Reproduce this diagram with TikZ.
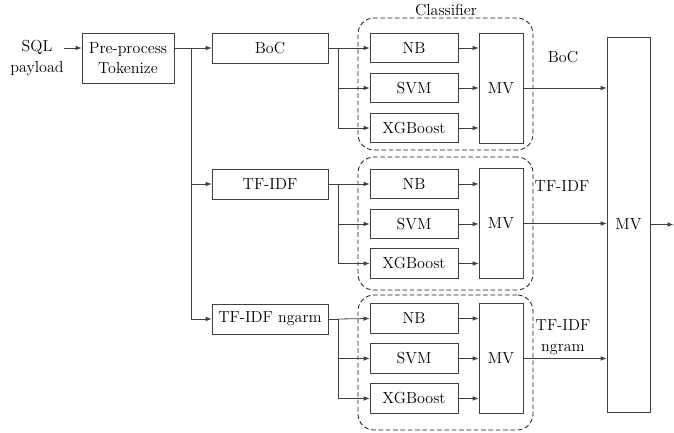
\documentclass[tikz,border=0pt]{standalone}
\usetikzlibrary{arrows.meta}
\begin{document}
\begin{tikzpicture}[x=0.75pt,y=-0.75pt,
  font=\rmfamily\fontsize{12}{15.5}\selectfont,
  ln/.style={draw=black!75,line width=0.6pt},
  arr/.style={ln,-{Latex[length=4.5pt,width=3.5pt]}},
  box/.style={ln,rectangle,inner sep=0pt,align=center},
  feat/.style={box,minimum width=87pt,minimum height=22.5pt},
  clf/.style={box,minimum width=66pt,minimum height=22pt},
  mvs/.style={box,minimum width=33pt,minimum height=82.5pt},
  grp/.style={draw=black!90,line width=0.6pt,dash pattern=on 3.5pt off 2pt,rounded corners=12pt,rectangle,minimum width=131.25pt,inner sep=0pt},
  lbl/.style={inner sep=0pt,align=center}]
\useasboundingbox (0,0) rectangle (674,432);

% input
\node[lbl] (sql) at (37,58) {SQL\\payload};
\node[box,minimum width=69pt,minimum height=37.5pt] (pre) at (128,58) {Pre-process\\Tokenize};

% features
\node[feat] (boc) at (270,48) {BoC};
\node[feat] (tfidf) at (270,184) {TF-IDF};
\node[feat] (ngram) at (270,319) {TF-IDF ngarm};

% dashed classifier groups
\node[grp,minimum height=99pt] (g1) at (445.5,84) {};
\node[grp,minimum height=99.75pt] (g2) at (445.5,223.5) {};
\node[grp,minimum height=101.25pt] (g3) at (445.5,362.5) {};
\node[lbl] (cl) at (446,10) {Classifier};

% block 1
\node[clf] (nb1) at (414,48) {NB};
\node[clf] (svm1) at (414,88) {SVM};
\node[clf] (xg1) at (414,128) {XGBoost};
\node[mvs] (mv1) at (501,88) {MV};
% block 2
\node[clf] (nb2) at (414,184) {NB};
\node[clf] (svm2) at (414,224) {SVM};
\node[clf] (xg2) at (414,263.5) {XGBoost};
\node[mvs] (mv2) at (501,223.5) {MV};
% block 3
\node[clf] (nb3) at (414,318.5) {NB};
\node[clf] (svm3) at (414,358.5) {SVM};
\node[clf] (xg3) at (414,398.5) {XGBoost};
\node[mvs] (mv3) at (501,358.5) {MV};

% final MV
\node[box,minimum width=32.25pt,minimum height=281.25pt] (mv) at (628.5,224.5) {MV};
\coordinate (out) at (673.5,224.5);

% labels
\node[lbl] (l1) at (563,57) {BoC};
\node[lbl] (l2) at (562,186) {TF-IDF};
\node[lbl] (l3) at (563,337) {TF-IDF\\ngram};

% junction coordinates
\coordinate (j0) at (191,48);
\coordinate (j1) at (338,48);
\coordinate (j2) at (338,184);
\coordinate (j3) at (338,319);

% connectors
\draw[arr] (sql.east |- boc.west) -- (pre.west |- boc.west);
\draw[ln] (pre.east |- boc.west) -- (j0);
\draw[arr] (j0) -- (boc.west);
\draw[ln] (j0) -- (j0 |- ngram.west);
\draw[arr] (j0 |- tfidf.west) -- (tfidf.west);
\draw[arr] (j0 |- ngram.west) -- (ngram.west);

\foreach \f/\j/\a/\b/\c in {boc/j1/nb1/svm1/xg1, tfidf/j2/nb2/svm2/xg2, ngram/j3/nb3/svm3/xg3}{
  \draw[ln] (\f.east) -- (\j) -- (\j |- \c.west);
  \draw[arr] (\j) -- (\a.west);
  \draw[arr] (\j |- \b.west) -- (\b.west);
  \draw[arr] (\j |- \c.west) -- (\c.west);
}
\foreach \a/\b/\c/\m in {nb1/svm1/xg1/mv1, nb2/svm2/xg2/mv2, nb3/svm3/xg3/mv3}{
  \draw[arr] (\a.east) -- (\m.west |- \a.east);
  \draw[arr] (\b.east) -- (\m.west |- \b.east);
  \draw[arr] (\c.east) -- (\m.west |- \c.east);
  \draw[arr] (\m.east) -- (mv.west |- \m.east);
}
\draw[arr] (mv.east) -- (out);
\end{tikzpicture}
\end{document}
